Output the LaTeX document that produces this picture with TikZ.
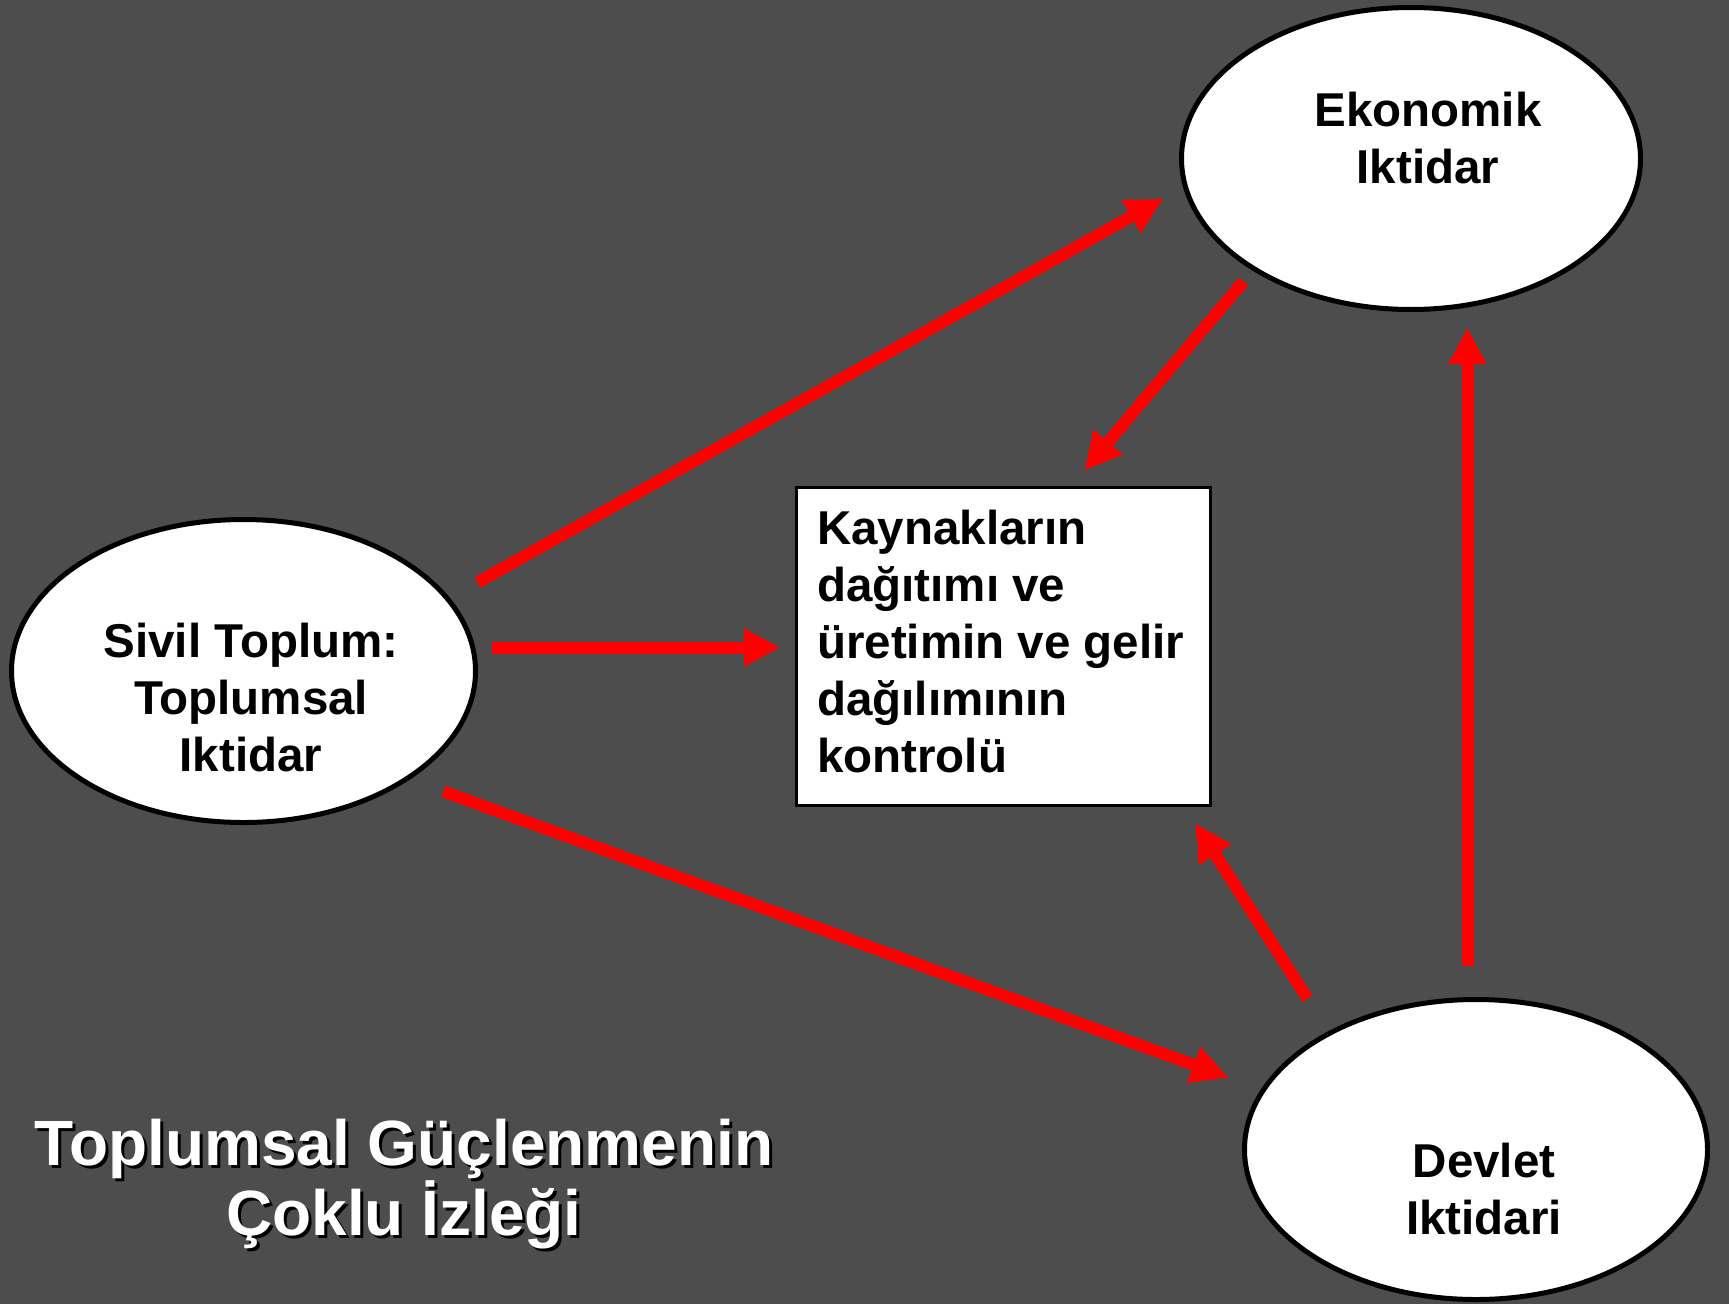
\documentclass[tikz,border=0pt]{standalone}
\usepackage{fontspec}
\setmainfont{Liberation Sans}
\usetikzlibrary{shapes.geometric,arrows.meta}
\definecolor{bggray}{HTML}{4D4D4D}
\definecolor{arrred}{HTML}{FF0000}
\tikzset{
  oval/.style={ellipse, draw=black, fill=white, line width=5pt, inner sep=0pt},
  boxnode/.style={rectangle, draw=black, fill=white, line width=3.5pt, inner sep=0pt},
  lbl/.style={font=\fontsize{47.5}{57}\selectfont\bfseries, text=black, inner sep=0pt, align=center, anchor=base},
  ttl/.style={font=\fontsize{64}{70}\selectfont\bfseries, inner sep=0pt, align=center, anchor=base},
  redarrow/.style={draw=arrred, line width=12pt, -{Triangle[length=37pt,width=36pt]}}
}
\begin{document}
\begin{tikzpicture}[x=1pt,y=-1pt]
\useasboundingbox (0,0) rectangle (1729,1304);
\fill[bggray] (0,0) rectangle (1729,1304);

% shapes
\node[oval, minimum width=459pt, minimum height=302pt] (ekon) at (1411,158.5) {};
\node[oval, minimum width=464pt, minimum height=303pt] (sivil) at (243.5,671) {};
\node[oval, minimum width=463pt, minimum height=300pt] (devlet) at (1476,1149.5) {};
\node[boxnode, minimum width=414pt, minimum height=318pt] (kay) at (1003.5,646.5) {};

% texts (anchor base = baseline of the last line)
\node[lbl] (ekontxt) at (1428,183) {Ekonomik\\Iktidar};
\node[lbl] (sivtxt) at (251,771) {Sivil Toplum:\\Toplumsal\\Iktidar};
\node[lbl] (devtxt) at (1484,1234) {Devlet\\Iktidari};
\node[lbl, align=left, anchor=base west] (kaytxt) at (817,772) {Kaynakların\\dağıtımı ve\\üretimin ve gelir\\dağılımının\\kontrolü};

% title
\node[ttl, text=black] (titleshadow) at (407,1238) {Toplumsal Güçlenmenin\\Çoklu İzleği};
\node[ttl, text=white] (title) at (404,1235) {Toplumsal Güçlenmenin\\Çoklu İzleği};

% arrow end points
\coordinate (a1s) at (477,582);
\coordinate (a1e) at (1163,198);
\coordinate (a2s) at (1243,281);
\coordinate (a2e) at (1084,470);
\coordinate (a3s) at (492,647);
\coordinate (a3e) at (780,647);
\coordinate (a4s) at (443,791);
\coordinate (a4e) at (1228,1077);
\coordinate (a5s) at (1307,998);
\coordinate (a5e) at (1195,823);
\coordinate (a6s) at (1467,966);
\coordinate (a6e) at (1467,327);

\draw[redarrow] (a1s) -- (a1e);
\draw[redarrow] (a2s) -- (a2e);
\draw[redarrow] (a3s) -- (a3e);
\draw[redarrow] (a4s) -- (a4e);
\draw[redarrow] (a5s) -- (a5e);
\draw[redarrow] (a6s) -- (a6e);
\end{tikzpicture}
\end{document}
